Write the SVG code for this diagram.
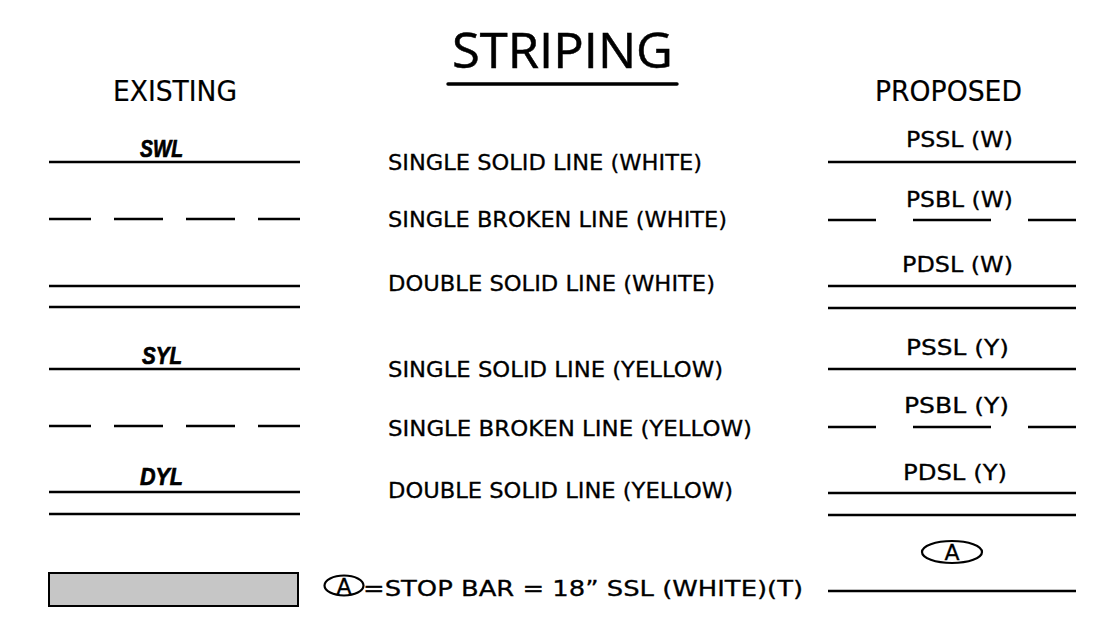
<svg xmlns="http://www.w3.org/2000/svg" width="1110" height="634" viewBox="0 0 1110 634">
<style>
text{font-family:"DejaVu Sans","Liberation Sans",sans-serif;fill:#000;stroke:#000;stroke-width:0.3}
.t{font-size:22px}
.h{font-size:28px;stroke-width:0.2}
.lab{font-size:22px}
.ex{font-family:"Liberation Sans",sans-serif;font-size:23px;font-weight:bold;font-style:italic;stroke-width:0.7}
.ln{stroke:#000;stroke-width:2.6;fill:none}
</style>
<rect width="1110" height="634" fill="#fff"/>
<g id="title">
<text x="452" y="68" style="font-family:'Open Sans','Liberation Sans',sans-serif;font-size:49px;stroke-width:0.5" textLength="221" lengthAdjust="spacingAndGlyphs">STRIPING</text>
<line x1="448" y1="84" x2="677" y2="84" stroke="#000" stroke-width="3.4" stroke-linecap="round"/>
</g>
<g id="headers">
<text class="h" x="113" y="101" textLength="124" lengthAdjust="spacingAndGlyphs">EXISTING</text>
<text class="h" x="875" y="101" textLength="147" lengthAdjust="spacingAndGlyphs">PROPOSED</text>
</g>
<g id="connectors">
<line class="ln" x1="49" y1="162" x2="300" y2="162"/>
<path class="ln" d="M49 219H91M114 219H163M186 219H235M258 219H300"/>
<line class="ln" x1="49" y1="286" x2="300" y2="286"/>
<line class="ln" x1="49" y1="307" x2="300" y2="307"/>
<line class="ln" x1="49" y1="369" x2="300" y2="369"/>
<path class="ln" d="M49 426H91M114 426H163M186 426H235M258 426H300"/>
<line class="ln" x1="49" y1="492" x2="300" y2="492"/>
<line class="ln" x1="49" y1="514" x2="300" y2="514"/>
<line class="ln" x1="828" y1="162" x2="1076" y2="162"/>
<path class="ln" d="M828 220H876M913 220H991M1028 220H1076"/>
<line class="ln" x1="828" y1="286" x2="1076" y2="286"/>
<line class="ln" x1="828" y1="308" x2="1076" y2="308"/>
<line class="ln" x1="828" y1="369" x2="1076" y2="369"/>
<path class="ln" d="M828 427H876M913 427H991M1028 427H1076"/>
<line class="ln" x1="828" y1="493" x2="1076" y2="493"/>
<line class="ln" x1="828" y1="515" x2="1076" y2="515"/>
<line class="ln" x1="828" y1="591" x2="1076" y2="591"/>
</g>
<g id="row-swl">
<text class="ex" x="140" y="157" textLength="43" lengthAdjust="spacingAndGlyphs">SWL</text>
<text class="t" x="388" y="170" textLength="314" lengthAdjust="spacingAndGlyphs">SINGLE SOLID LINE (WHITE)</text>
<text class="lab" x="906" y="147" textLength="107" lengthAdjust="spacingAndGlyphs">PSSL (W)</text>
</g>
<g id="row-sbl-w">
<text class="t" x="388" y="227" textLength="339" lengthAdjust="spacingAndGlyphs">SINGLE BROKEN LINE (WHITE)</text>
<text class="lab" x="906" y="207" textLength="107" lengthAdjust="spacingAndGlyphs">PSBL (W)</text>
</g>
<g id="row-dsl-w">
<text class="t" x="388" y="291" textLength="327" lengthAdjust="spacingAndGlyphs">DOUBLE SOLID LINE (WHITE)</text>
<text class="lab" x="902" y="272" textLength="111" lengthAdjust="spacingAndGlyphs">PDSL (W)</text>
</g>
<g id="row-syl">
<text class="ex" x="142" y="364" textLength="40" lengthAdjust="spacingAndGlyphs">SYL</text>
<text class="t" x="388" y="377" textLength="335" lengthAdjust="spacingAndGlyphs">SINGLE SOLID LINE (YELLOW)</text>
<text class="lab" x="906" y="355" textLength="103" lengthAdjust="spacingAndGlyphs">PSSL (Y)</text>
</g>
<g id="row-sbl-y">
<text class="t" x="388" y="436" textLength="364" lengthAdjust="spacingAndGlyphs">SINGLE BROKEN LINE (YELLOW)</text>
<text class="lab" x="904" y="413" textLength="105" lengthAdjust="spacingAndGlyphs">PSBL (Y)</text>
</g>
<g id="row-dyl">
<text class="ex" x="140" y="485" textLength="43" lengthAdjust="spacingAndGlyphs">DYL</text>
<text class="t" x="388" y="498" textLength="345" lengthAdjust="spacingAndGlyphs">DOUBLE SOLID LINE (YELLOW)</text>
<text class="lab" x="903" y="480" textLength="104" lengthAdjust="spacingAndGlyphs">PDSL (Y)</text>
</g>
<g id="row-stopbar">
<rect x="49" y="573" width="249" height="33" fill="#c6c6c6" stroke="#000" stroke-width="2"/>
<ellipse cx="344" cy="585.5" rx="19.5" ry="10" fill="none" stroke="#000" stroke-width="2.2"/>
<text class="t" x="344" y="594" text-anchor="middle">A</text>
<text class="t" x="363" y="596" textLength="440" lengthAdjust="spacingAndGlyphs">=STOP BAR = 18” SSL (WHITE)(T)</text>
<ellipse cx="952" cy="552" rx="30" ry="11" fill="none" stroke="#000" stroke-width="2.2"/>
<text class="t" x="952" y="560" text-anchor="middle">A</text>
</g>
</svg>
